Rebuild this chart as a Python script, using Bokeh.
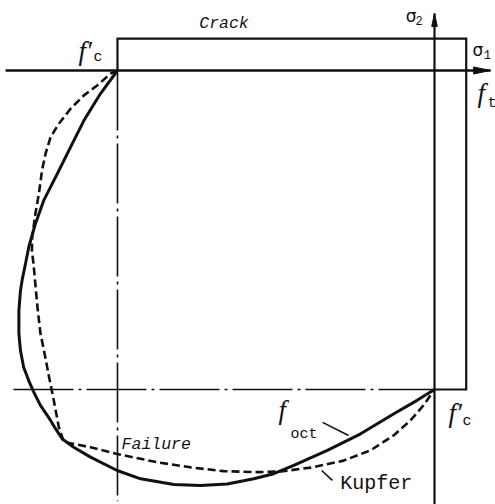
from bokeh.plotting import figure
from bokeh.models import Range1d
from bokeh.core.properties import value
from bokeh.embed import file_html
from bokeh.resources import INLINE

# Biaxial strength envelope, stresses normalised by f'c (compression negative)
f_c = 1.0          # uniaxial compressive strength
f_t = 0.10         # uniaxial tensile strength

# Octahedral-stress failure curve (solid)
foct_s1 = [-1.000, -1.054, -1.106, -1.148, -1.190, -1.233, -1.259, -1.280, -1.290,
           -1.301, -1.306, -1.311, -1.311, -1.306, -1.296, -1.280, -1.264, -1.243,
           -1.211, -1.196, -1.174, -1.138, -1.085, -1.001, -0.927, -0.822, -0.738,
           -0.654, -0.570, -0.507, -0.444, -0.338, -0.233, -0.128, -0.055, 0.000]
foct_s2 = [0.000, -0.073, -0.157, -0.240, -0.324, -0.408, -0.481, -0.554, -0.605,
           -0.658, -0.690, -0.752, -0.824, -0.878, -0.930, -0.972, -1.008, -1.050,
           -1.097, -1.122, -1.155, -1.181, -1.212, -1.254, -1.280, -1.298, -1.301,
           -1.296, -1.280, -1.264, -1.238, -1.191, -1.139, -1.076, -1.034, -1.000]

# Kupfer experimental envelope (dashed)
kupfer_s1 = [-1.000, -1.022, -1.064, -1.106, -1.148, -1.185, -1.211, -1.227, -1.238,
             -1.248, -1.259, -1.269, -1.270, -1.265, -1.252, -1.243, -1.230, -1.218,
             -1.201, -1.185, -1.169, -1.085, -1.001, -0.875, -0.770, -0.665, -0.559,
             -0.486, -0.391, -0.287, -0.202, -0.129, -0.076, -0.035, -0.013, 0.000]
kupfer_s2 = [0.000, -0.010, -0.047, -0.078, -0.120, -0.167, -0.209, -0.261, -0.313,
             -0.387, -0.449, -0.523, -0.564, -0.605, -0.746, -0.824, -0.887, -0.950,
             -1.034, -1.118, -1.165, -1.181, -1.202, -1.228, -1.244, -1.256, -1.259,
             -1.257, -1.245, -1.223, -1.191, -1.144, -1.097, -1.050, -1.019, -1.000]

# Extent of the drawing in stress units
S1_MIN, S1_MAX = -1.369, 0.1924
S2_MIN, S2_MAX = -1.3605, 0.2194
PX_PER_UNIT_X = 495 / (S1_MAX - S1_MIN)
PX_PER_UNIT_Y = 504 / (S2_MAX - S2_MIN)

axis1_start, axis1_tip = -1.353, 0.177
axis2_start, axis2_tip = -1.36, 0.179
guide_start = -1.328      # left end of the dash-dot line at sigma2 = -f'c
guide_end = -1.35         # lower end of the dash-dot line at sigma1 = -f'c

# Labels
f_text = ["f\u2032", "f", "f\u2032", "f"]
f_x = [-1.123, 0.136, 0.044, -0.492]
f_y = [0.060, -0.072, -1.075, -1.063]

sub_text = ["c", "t", "c", "oct"]
sub_x = [-1.076, 0.167, 0.088, -0.454]
sub_y = [0.041, -0.104, -1.101, -1.141]

sig_text = ["\u03c3", "\u03c3"]
sig_x = [-0.091, 0.120]
sig_y = [0.172, 0.063]
sig_sub_text = ["2", "1"]
sig_sub_x = [-0.060, 0.155]
sig_sub_y = [0.156, 0.050]

region_text = ["Crack", "Failure"]
region_x = [-0.664, -0.987]
region_y = [0.148, -1.173]
region_align = ["center", "left"]

kupfer_text = ["Kupfer"]
kupfer_x = [-0.297]
kupfer_y = [-1.295]

# Leader lines from labels to curves
leader_x0 = [-0.353, -0.356]
leader_y0 = [-1.103, -1.254]
leader_x1 = [-0.271, -0.322]
leader_y1 = [-1.144, -1.285]

INK = "#111111"

p = figure(width=495, height=504, output_backend="svg", toolbar_location=None,
           x_range=Range1d(S1_MIN, S1_MAX), y_range=Range1d(S2_MIN, S2_MAX),
           x_axis_location=None, y_axis_location=None, min_border=0)
p.grid.visible = False
p.outline_line_color = None
p.background_fill_color = "white"
p.border_fill_color = "white"

# Dash-dot reference lines through -f'c
p.line([-f_c, -f_c], [0, guide_end], line_color=INK, line_width=1.6, line_dash="60 5 3 5")
p.line([guide_start, 0], [-f_c, -f_c], line_color=INK, line_width=1.6, line_dash="60 5 3 5")

# Crack region outline
p.line([-f_c, -f_c, f_t, f_t, 0], [0, f_t, f_t, -f_c, -f_c],
       line_color=INK, line_width=2.2, line_join="miter")

# Stress axes
p.line([axis1_start, axis1_tip], [0, 0], line_color=INK, line_width=2.6)
p.line([0, 0], [axis2_start, axis2_tip], line_color=INK, line_width=2.2)

# Arrow heads (narrow triangles)
h1_len, h1_half = 17 / PX_PER_UNIT_X, 3.5 / PX_PER_UNIT_Y
h2_len, h2_half = 13 / PX_PER_UNIT_Y, 2.8 / PX_PER_UNIT_X
p.patch([axis1_tip, axis1_tip - h1_len, axis1_tip - h1_len], [0, h1_half, -h1_half],
        fill_color=INK, line_color=INK, line_width=1)
p.patch([0, h2_half, -h2_half], [axis2_tip, axis2_tip - h2_len, axis2_tip - h2_len],
        fill_color=INK, line_color=INK, line_width=1)

# Failure envelopes
p.line(kupfer_s1, kupfer_s2, line_color=INK, line_width=2.6, line_dash="8 4")
p.line(foct_s1, foct_s2, line_color=INK, line_width=3.0, line_join="round")

# Leaders
p.segment(leader_x0, leader_y0, leader_x1, leader_y1, line_color=INK, line_width=1.6)

# Text
p.text(f_x, f_y, text=f_text, text_font=value("Liberation Serif"), text_font_style="italic",
       text_font_size="27px", text_align="left", text_baseline="alphabetic", text_color=INK)
p.text(sub_x, sub_y, text=sub_text, text_font=value("Liberation Mono"),
       text_font_size="15px", text_align="left", text_baseline="alphabetic", text_color=INK)
p.text(sig_x, sig_y, text=sig_text, text_font=value("DejaVu Sans"),
       text_font_size="17px", text_align="left", text_baseline="alphabetic", text_color=INK)
p.text(sig_sub_x, sig_sub_y, text=sig_sub_text, text_font=value("Liberation Mono"),
       text_font_size="12px", text_align="left", text_baseline="alphabetic", text_color=INK)
p.text(region_x, region_y, text=region_text, text_font=value("Liberation Mono"),
       text_font_style="italic", text_font_size="16.5px", text_align=region_align,
       text_baseline="alphabetic", text_color=INK)
p.text(kupfer_x, kupfer_y, text=kupfer_text, text_font=value("Liberation Mono"),
       text_font_size="20px", text_align="left", text_baseline="alphabetic", text_color=INK)

open("out.html", "w").write(file_html(p, INLINE))
